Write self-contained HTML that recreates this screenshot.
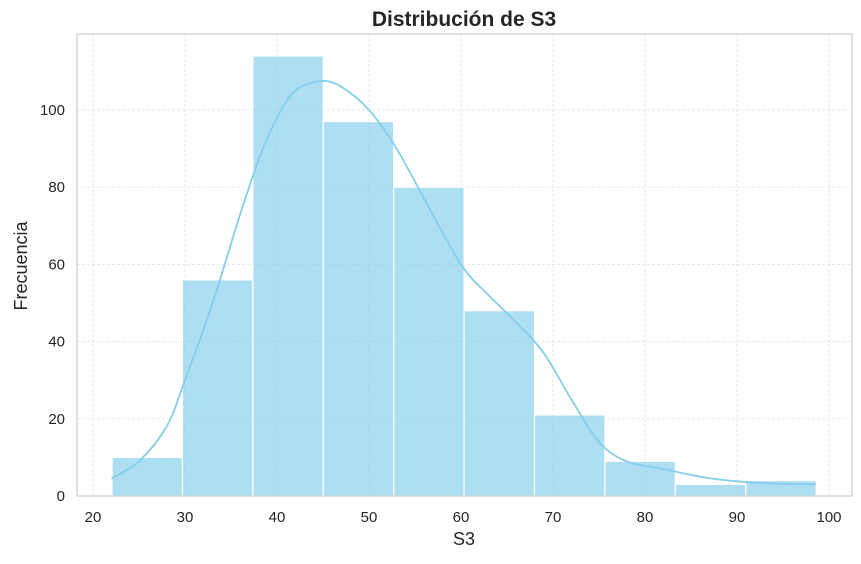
<!DOCTYPE html>
<html><head><meta charset="utf-8"><style>
body{margin:0;background:#fff;font-family:"Liberation Sans","DejaVu Sans",sans-serif;}
</style></head><body>
<svg id="chart" width="861" height="559" xmlns="http://www.w3.org/2000/svg"></svg>
<script>
const binEdgesStart = 22.07;
const binWidth = 7.653;
const counts = [10,56,114,97,80,48,21,9,3,4];
const kdeX = [22,25,28,30,33,36,38,40,42,44.7,47,50,53,56,60,63,66,69,72,75,78,82,86,90,94,98.6];
const kdeY = [4.5,9,18,30,50,73,87,98,105,107.5,106,100,90,77,60,52,45,37,25,14,9,7,5,3.8,3.2,3];
const xTicks = [20,30,40,50,60,70,80,90,100];
const yTicks = [0,20,40,60,80,100];

const svg = document.getElementById('chart');
const NS = 'http://www.w3.org/2000/svg';
const L=77,R=852,T=34,B=496;
const xs = v => 93 + (v-20)*9.2;
const ys = v => 496 - v*3.86;
function mk(tag, attrs, parent){const e=document.createElementNS(NS,tag);for(const k in attrs)e.setAttribute(k,attrs[k]);(parent||svg).appendChild(e);return e;}

const grid = mk('g',{});


xTicks.forEach(t=>{mk('line',{x1:xs(t),x2:xs(t),y1:T,y2:B,stroke:'#ddd','stroke-width':0.7,'stroke-dasharray':'3,2'},grid);});
yTicks.forEach(t=>{mk('line',{x1:L,x2:R,y1:ys(t),y2:ys(t),stroke:'#ddd','stroke-width':0.7,'stroke-dasharray':'3,2'},grid);});

const bars = mk('g',{});


counts.forEach((c,i)=>{
  const x0=xs(binEdgesStart+i*binWidth), x1=xs(binEdgesStart+(i+1)*binWidth);
  const r=mk('rect',{x:x0,y:ys(c),width:x1-x0,height:ys(0)-ys(c),fill:'#87ceeb','fill-opacity':0.68,stroke:'#fff','stroke-width':1.2},bars);
  
  
});

const P = kdeX.map((v,i)=>[xs(v),ys(kdeY[i])]);
let d='M'+P[0][0].toFixed(1)+','+P[0][1].toFixed(1);
for(let i=0;i<P.length-1;i++){
  const p0=P[Math.max(0,i-1)],p1=P[i],p2=P[i+1],p3=P[Math.min(P.length-1,i+2)];
  const c1=[p1[0]+(p2[0]-p0[0])/6,p1[1]+(p2[1]-p0[1])/6];
  const c2=[p2[0]-(p3[0]-p1[0])/6,p2[1]-(p3[1]-p1[1])/6];
  d+='C'+c1.map(n=>n.toFixed(1)).join(',')+' '+c2.map(n=>n.toFixed(1)).join(',')+' '+p2.map(n=>n.toFixed(1)).join(',');
}
const kde = mk('path',{d:d,fill:'none',stroke:'#87ceeb','stroke-width':1.8,'stroke-linejoin':'round'});



const frame = mk('rect',{x:L,y:T,width:R-L,height:B-T,fill:'none',stroke:'#ccc','stroke-width':1.2});



const xax = mk('g',{});


xTicks.forEach(t=>{const e=mk('text',{x:xs(t),y:522,'text-anchor':'middle','font-size':15,fill:'#262626'},xax);e.textContent=t;});
const yax = mk('g',{});


yTicks.forEach(t=>{const e=mk('text',{x:65,y:ys(t)+5,'text-anchor':'end','font-size':15,fill:'#262626'},yax);e.textContent=t;});
</script>
<svg style="position:absolute;left:0;top:0" width="861" height="559">
<text x="464" y="26" text-anchor="middle" font-size="21" font-weight="bold" fill="#262626" font-family="Liberation Sans, sans-serif">Distribución de S3</text>
<text x="464" y="545" text-anchor="middle" font-size="18" fill="#262626" font-family="Liberation Sans, sans-serif">S3</text>
<text transform="translate(27,266) rotate(-90)" text-anchor="middle" font-size="18" fill="#262626" font-family="Liberation Sans, sans-serif">Frecuencia</text>
</svg>
</body></html>
